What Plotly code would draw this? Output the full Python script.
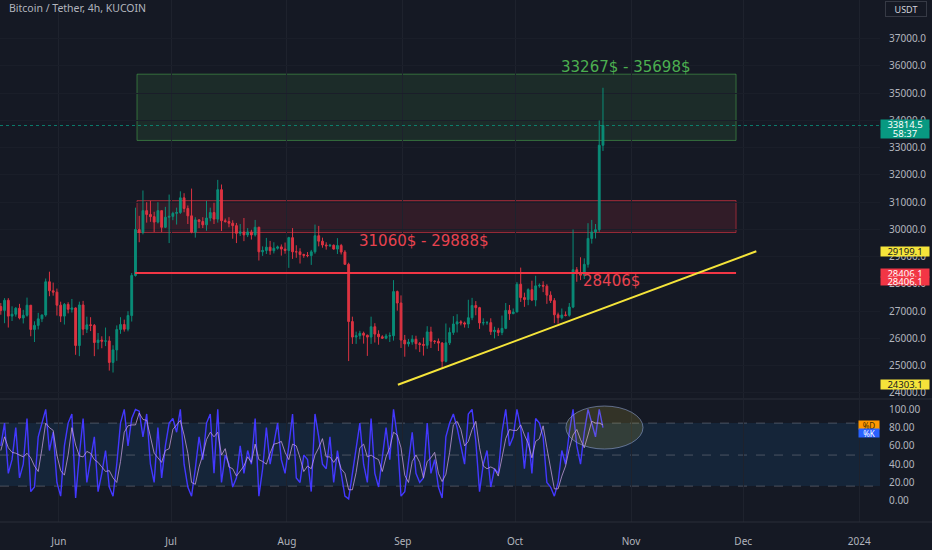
import plotly.graph_objects as go
import pandas as pd

# ---------------- data ----------------
start_day = "2023-05-16"

opens = [27170, 27030, 27400, 26820, 26890, 27110, 26750, 26850, 27220, 26330, 26480, 26720, 26860, 28080, 27750, 27700,
         27220, 26820, 27250, 27070, 27120, 25740, 27230, 26340, 26500, 26480, 25850, 25940, 25900, 25910, 25120, 25580, 26330, 26510, 26340, 26840, 28310, 30000, 29890, 30690, 30550, 30470, 30270, 30690, 30080, 30450,
         30480, 30590, 30620, 31160, 30770, 30500, 29900, 30350, 30290, 30170, 30420, 30620, 30380, 31460, 30320, 30290, 30230, 30140, 29860, 29910, 29800, 29910, 29800, 30080, 29180, 29230, 29350, 29220, 29310, 29360, 29280,
         29230, 29700, 29180, 29180, 29080, 29050, 29040, 29180, 29770, 29570, 29430, 29400, 29420, 29280, 29410, 29170, 28720, 26620, 26050, 26100, 26190, 26120, 26050, 26430, 26160, 26060, 26010, 26090, 26100, 27720, 27300,
         25940, 25800, 25870, 25970, 25810, 25780, 25750, 26240, 25900, 25890, 25830, 25160, 25840, 26220, 26530, 26610, 26570, 26530, 26760, 27210, 27130, 26570, 26580, 26580, 26250, 26300, 26220, 26370, 27030, 26910,
         26970, 27990, 27500, 27430, 27790, 27410, 27930, 27950, 27920, 27590, 27390, 26870, 26760, 26860, 26850, 27150, 28520, 28410, 28320, 28720, 29670, 29910, 29990, 33090]
highs = [27300, 27480, 27480, 27180, 27150, 27270, 27050, 27500, 27220, 26630, 26940, 26880, 28200, 28450, 28050, 27830,
         27350, 27300, 27330, 27450, 27140, 27350, 27380, 26800, 26780, 26530, 26200, 26080, 26400, 26080, 25750, 26480, 26780, 26690, 27000, 28400, 30800, 30500, 31430, 31000, 31050, 30650, 31000, 30700, 30830, 31280,
         30650, 30800, 31400, 31330, 30880, 31500, 30450, 30380, 30450, 31050, 30800, 30980, 31820, 31650, 30400, 30450, 30340, 30240, 30200, 30420, 30050, 29990, 30350, 30100, 29380, 29690, 29580, 29530, 29410, 29450, 29520,
         29730, 30050, 29420, 29310, 29110, 29170, 29250, 30180, 30130, 29700, 29530, 29470, 29450, 29680, 29470, 29240, 28780, 26800, 26250, 26280, 26250, 26140, 26800, 26560, 26300, 26120, 26170, 26220, 28140, 27760, 27580,
         26130, 25980, 26120, 26100, 25870, 26030, 26450, 26430, 25940, 26000, 25870, 26550, 26400, 26820, 26890, 26670, 26620, 27420, 27490, 27370, 27160, 26740, 26640, 26740, 26430, 26390, 26840, 27300, 27230, 27100,
         28070, 28600, 27680, 27840, 28120, 28300, 28020, 28100, 27990, 27730, 27480, 26950, 27100, 26990, 27300, 30000, 28620, 28980, 28940, 30230, 30350, 30200, 34000, 35200]
lows = [26870, 26560, 26400, 26640, 26800, 26700, 26550, 26800, 26080, 25870, 26330, 26600, 26800, 27550, 27570, 26840,
        26600, 26510, 26920, 26950, 25400, 25350, 26120, 26200, 26270, 25350, 25600, 25640, 25720, 24820, 24750, 25180, 26170, 26250, 26260, 26620, 28270, 29530, 29820, 30250, 30280, 29900, 30220, 29900, 30050, 29500,
        30340, 30180, 30570, 30630, 30200, 29860, 29700, 30050, 30050, 29950, 30300, 30200, 30250, 29940, 30250, 30080, 29660, 29500, 29760, 29570, 29720, 29630, 29740, 28860, 29030, 29100, 29070, 29120, 29260, 29040, 29110,
        28590, 28920, 28960, 28750, 28960, 28980, 28700, 29110, 29380, 29330, 29260, 29360, 29260, 29100, 29080, 28720, 25170, 25800, 25800, 25970, 25810, 25360, 25800, 25850, 25770, 25980, 25970, 25870, 25920, 27020, 25650,
        25330, 25700, 25770, 25600, 25500, 25370, 25620, 25650, 25800, 25540, 24900, 25120, 25760, 26130, 26220, 26480, 26400, 26380, 26670, 26850, 26350, 26480, 26500, 26130, 26000, 26090, 26120, 26340, 26680, 26890,
        26970, 27340, 27160, 27220, 27370, 27180, 27860, 27700, 27270, 27300, 26560, 26540, 26700, 26810, 26800, 27110, 28080, 28140, 28180, 28600, 29480, 29670, 29900, 32880]
closes = [27030, 27400, 26820, 26890, 27110, 26750, 26850, 27220, 26330, 26480, 26720, 26860, 28080, 27750, 27700, 27220,
          26820, 27250, 27070, 27120, 25740, 27230, 26340, 26500, 26480, 25850, 25940, 25900, 25910, 25120, 25580, 26330, 26510, 26340, 26840, 28310, 30000, 29890, 30690, 30550, 30470, 30270, 30690, 30080, 30450, 30480,
          30590, 30620, 31160, 30770, 30500, 29900, 30350, 30290, 30170, 30420, 30620, 30380, 31460, 30320, 30290, 30230, 30140, 29860, 29910, 29800, 29910, 29800, 30080, 29180, 29230, 29350, 29220, 29310, 29360, 29280, 29230,
          29700, 29180, 29180, 29080, 29050, 29040, 29180, 29770, 29570, 29430, 29400, 29420, 29280, 29410, 29170, 28720, 26620, 26050, 26100, 26190, 26120, 26050, 26430, 26160, 26060, 26010, 26090, 26100, 27720, 27300, 25940,
          25800, 25870, 25970, 25810, 25780, 25750, 26240, 25900, 25890, 25830, 25160, 25840, 26220, 26530, 26610, 26570, 26530, 26760, 27210, 27130, 26570, 26580, 26580, 26250, 26300, 26220, 26370, 27030, 26910, 26970,
          27990, 27500, 27430, 27790, 27410, 27930, 27950, 27920, 27590, 27390, 26870, 26760, 26860, 26850, 27150, 28520, 28410, 28320, 28720, 29670, 29910, 29990, 33090, 33814.5]

stoch_k = [60, 85, 30, 45, 80, 25, 40, 90, 10, 15, 70, 85, 100, 55, 75, 20,
           5, 60, 85, 95, 3, 50, 90, 20, 45, 70, 10, 30, 55, 15, 5, 40, 85, 100, 60, 90, 100, 98, 70, 95, 40, 20, 80, 25, 60, 85,
           90, 75, 100, 40, 15, 5, 35, 70, 45, 85, 95, 30, 100, 20, 50, 40, 15, 25, 60, 30, 55, 40, 90, 5, 35, 80, 40, 65, 85, 45, 30,
           60, 95, 25, 20, 50, 45, 10, 95, 70, 40, 35, 70, 20, 55, 30, 5, 2, 30, 60, 85, 40, 20, 90, 30, 15, 50, 80, 45, 100, 70, 5,
           10, 45, 75, 30, 20, 25, 85, 30, 45, 15, 3, 70, 85, 95, 80, 60, 40, 95, 100, 65, 10, 40, 55, 15, 35, 30, 75, 100, 60, 70,
           100, 80, 35, 75, 30, 90, 85, 70, 20, 15, 5, 20, 55, 40, 75, 100, 60, 40, 75, 100, 85, 70, 100, 80]
stoch_d = [55, 70, 58, 53, 52, 50, 48, 52, 47, 38, 32, 57, 85, 80, 77, 50,
           33, 28, 50, 80, 61, 49, 48, 54, 52, 45, 42, 37, 32, 33, 25, 20, 43, 75, 82, 83, 83, 96, 89, 88, 68, 52, 47, 42, 55, 57,
           78, 83, 88, 72, 52, 20, 18, 37, 50, 67, 75, 70, 75, 50, 57, 37, 35, 27, 33, 38, 48, 42, 62, 45, 43, 40, 52, 62, 63, 65, 53,
           45, 62, 60, 47, 32, 38, 35, 50, 58, 68, 48, 48, 42, 48, 35, 30, 12, 12, 31, 58, 62, 48, 50, 47, 45, 32, 48, 58, 75, 72, 58,
           28, 20, 43, 50, 42, 25, 43, 47, 53, 30, 21, 29, 53, 83, 87, 78, 60, 65, 78, 87, 58, 38, 35, 37, 35, 27, 47, 68, 78, 77,
           77, 83, 72, 63, 47, 65, 68, 82, 58, 35, 13, 13, 27, 38, 57, 72, 78, 67, 58, 72, 87, 85, 85, 83]

green_zone = [33267, 35698]
red_zone = [29888, 31060]
zone_dates = ["2023-06-21 22:00", "2023-11-29 02:00"]
support_level = 28406
support_dates = ["2023-06-21 10:00", "2023-11-29 02:00"]
trend_dates = ["2023-08-30 16:00", "2023-12-04 12:00"]
trend_prices = [24303.1, 29199.1]
last_price = 33814.5
countdown = "58:37"
ellipse_dates = ["2023-10-14 14:00", "2023-11-04 05:00"]
ellipse_values = [56.6, 103.7]
stoch_bands = [16, 50, 85]

month_ticks = ["2023-06-01", "2023-07-01", "2023-08-01", "2023-09-01", "2023-10-01",
               "2023-11-01", "2023-12-01", "2024-01-01"]
month_labels = ["Jun", "Jul", "Aug", "Sep", "Oct", "Nov", "Dec", "2024"]
price_ticks = list(range(24000, 38000, 1000))
stoch_ticks = [0, 20, 40, 60, 80, 100]

# ---------------- styling ----------------
BG = "#151924"
TXT = "#b2b5be"
UP = "#089981"
DN = "#f23645"
FONT = "Noto Sans"
LBLFONT = "DejaVu Sans"
PLOT_H = 522.0

def py(p):  # pixel row (from top of plot area) -> paper fraction
    return 1 - p / PLOT_H

dates = pd.date_range(start_day, periods=len(closes), freq="D") + pd.Timedelta(hours=12)

fig = go.Figure()
fig.add_trace(go.Candlestick(
    x=dates, open=opens, high=highs, low=lows, close=closes,
    xaxis="x2", yaxis="y", opacity=0.9,
    increasing=dict(line=dict(color=UP, width=1), fillcolor=UP),
    decreasing=dict(line=dict(color=DN, width=1), fillcolor=DN),
    whiskerwidth=0, hoverinfo="skip", showlegend=False))
fig.add_trace(go.Scatter(x=dates, y=stoch_k, xaxis="x", yaxis="y2", mode="lines",
                         line=dict(color="#4338ff", width=1.4), hoverinfo="skip", showlegend=False))
fig.add_trace(go.Scatter(x=dates, y=stoch_d, xaxis="x", yaxis="y2", mode="lines",
                         line=dict(color="rgba(200,160,225,0.75)", width=1), hoverinfo="skip", showlegend=False))

xrange = ["2023-05-16 06:43", "2024-01-06 13:40"]
common_x = dict(type="date", range=xrange, tickvals=month_ticks, ticktext=month_labels,
                showgrid=True, gridcolor="#1e222d", gridwidth=1, zeroline=False, showline=False,
                ticks="", fixedrange=True)

shapes = []
# stochastic band
shapes.append(dict(type="rect", xref="paper", yref="y2", x0=0, x1=1, y0=stoch_bands[0], y1=stoch_bands[2],
                   fillcolor="rgba(33,150,243,0.10)", line=dict(width=0), layer="below"))
for b in stoch_bands:
    shapes.append(dict(type="line", xref="paper", yref="y2", x0=0, x1=1, y0=b, y1=b,
                       line=dict(color="rgba(120,123,134,0.55)", width=1, dash="dash"), layer="below"))
# zones
shapes.append(dict(type="rect", xref="x2", yref="y", x0=zone_dates[0], x1=zone_dates[1],
                   y0=green_zone[0], y1=green_zone[1], fillcolor="rgba(76,175,80,0.13)",
                   line=dict(color="rgba(76,175,80,0.55)", width=1), layer="below"))
shapes.append(dict(type="rect", xref="x2", yref="y", x0=zone_dates[0], x1=zone_dates[1],
                   y0=red_zone[0], y1=red_zone[1], fillcolor="rgba(242,54,69,0.13)",
                   line=dict(color="rgba(242,54,69,0.55)", width=1), layer="below"))
shapes.append(dict(type="line", xref="x2", yref="y", x0=support_dates[0], x1=support_dates[1],
                   y0=support_level, y1=support_level, line=dict(color="#f23645", width=2)))
shapes.append(dict(type="line", xref="x2", yref="y", x0=trend_dates[0], x1=trend_dates[1],
                   y0=trend_prices[0], y1=trend_prices[1], line=dict(color="#f5e43a", width=2)))
shapes.append(dict(type="line", xref="paper", yref="y", x0=0, x1=1, y0=last_price, y1=last_price,
                   line=dict(color="rgba(8,153,129,0.75)", width=1, dash="dot")))
shapes.append(dict(type="circle", xref="x", yref="y2", x0=ellipse_dates[0], x1=ellipse_dates[1],
                   y0=ellipse_values[0], y1=ellipse_values[1], fillcolor="rgba(255,235,59,0.13)",
                   line=dict(color="rgba(150,170,220,0.55)", width=1)))
# pane separators
for yy in [py(399), 0]:
    shapes.append(dict(type="line", xref="paper", yref="paper", x0=0, x1=1.06, y0=yy, y1=yy,
                       line=dict(color="#2a2e39", width=1)))

ann = []
ann.append(dict(xref="paper", yref="paper", x=7 / 880, y=py(8), xanchor="left", yanchor="middle",
                text="Bitcoin / Tether, 4h, KUCOIN", showarrow=False, font=dict(family=FONT, size=10.5, color=TXT)))
ann.append(dict(xref="paper", yref="paper", x=906.5 / 880, y=py(9), xanchor="center", yanchor="middle",
                text="USDT", showarrow=False, font=dict(family=FONT, size=9, color="#d1d4dc"),
                bordercolor="#363a45", borderwidth=1, borderpad=1, width=38, height=12, bgcolor=BG))
ann.append(dict(xref="paper", yref="paper", x=625 / 880, y=py(67), xanchor="center", yanchor="middle",
                text="33267$ - 35698$", showarrow=False, font=dict(family=LBLFONT, size=15, color="#4caf50")))
ann.append(dict(xref="paper", yref="paper", x=423 / 880, y=py(241), xanchor="center", yanchor="middle",
                text="31060$ - 29888$", showarrow=False, font=dict(family=LBLFONT, size=15, color="#e8424f")))
ann.append(dict(xref="paper", yref="paper", x=611 / 880, y=py(281), xanchor="center", yanchor="middle",
                text="28406$", showarrow=False, font=dict(family=LBLFONT, size=15, color="#e8424f")))

# price axis tags (one row per annotation)
def tag(text, yref, y, bg, fg, yshift=0, h=9):
    ann.append(dict(xref="paper", yref=yref, x=1, y=y, xanchor="left", yanchor="middle", yshift=yshift,
                    text=text, showarrow=False, align="center", bgcolor=bg, width=48, height=h, borderpad=0,
                    font=dict(family=FONT, size=9.5, color=fg)))

tag(f"{last_price:.1f}", "y", last_price, UP, "#ffffff", 1)
tag(countdown, "y", last_price, UP, "#ffffff", -8)
for v in trend_prices:
    tag(f"{v:.1f}", "y", v, "#f5e43a", "#131722")
tag(f"{support_level + 0.1:.1f}", "y", support_level, "#f23645", "#ffffff", 0, 8)
tag(f"{support_level + 0.1:.1f}", "y", support_level, "#f23645", "#ffffff", -8, 8)

ann.append(dict(xref="paper", yref="y2", x=1, y=stoch_d[-1], xanchor="right", yanchor="middle",
                text="%D", showarrow=False, bgcolor="#ff9800", width=20, height=8, borderpad=0,
                font=dict(family=FONT, size=8, color="#3a2a00")))
ann.append(dict(xref="paper", yref="y2", x=1, y=stoch_d[-1], xanchor="right", yanchor="middle", yshift=-8,
                text="%K", showarrow=False, bgcolor="#2962ff", width=20, height=8, borderpad=0,
                font=dict(family=FONT, size=8, color="#ffffff")))

fig.update_layout(
    width=932, height=550,
    margin=dict(l=0, r=52, t=0, b=28),
    paper_bgcolor=BG, plot_bgcolor=BG,
    font=dict(family=FONT, size=10, color=TXT),
    showlegend=False,
    xaxis=dict(common_x, anchor="y2", domain=[0, 1], tickfont=dict(family=FONT, size=10, color=TXT),
               ticklabelstandoff=12, rangeslider=dict(visible=False)),
    xaxis2=dict(common_x, anchor="y", domain=[0, 1], matches="x", showticklabels=False,
                rangeslider=dict(visible=False)),
    yaxis=dict(domain=[py(398), 1], range=[23815, 38420], side="right", anchor="x2",
               tickvals=price_ticks, ticktext=[f"{v}.0" for v in price_ticks],
               tickfont=dict(family=FONT, size=10, color=TXT), showgrid=True, gridcolor="#1a1e29",
               zeroline=False, showline=False, ticks="", ticklabelstandoff=8, fixedrange=True),
    yaxis2=dict(domain=[0, py(400)], range=[-23.3, 110.3], side="right", anchor="x",
                tickvals=stoch_ticks, ticktext=[f"{v}.00" for v in stoch_ticks],
                tickfont=dict(family=FONT, size=10, color=TXT), showgrid=False,
                zeroline=False, showline=False, ticks="", ticklabelstandoff=8, fixedrange=True),
    shapes=shapes, annotations=ann,
)

fig.write_html("out.html", config={"displayModeBar": False},
               post_script="document.body.style.margin='0';document.body.style.overflow='hidden';"
                           "document.body.style.background='#151924';")
